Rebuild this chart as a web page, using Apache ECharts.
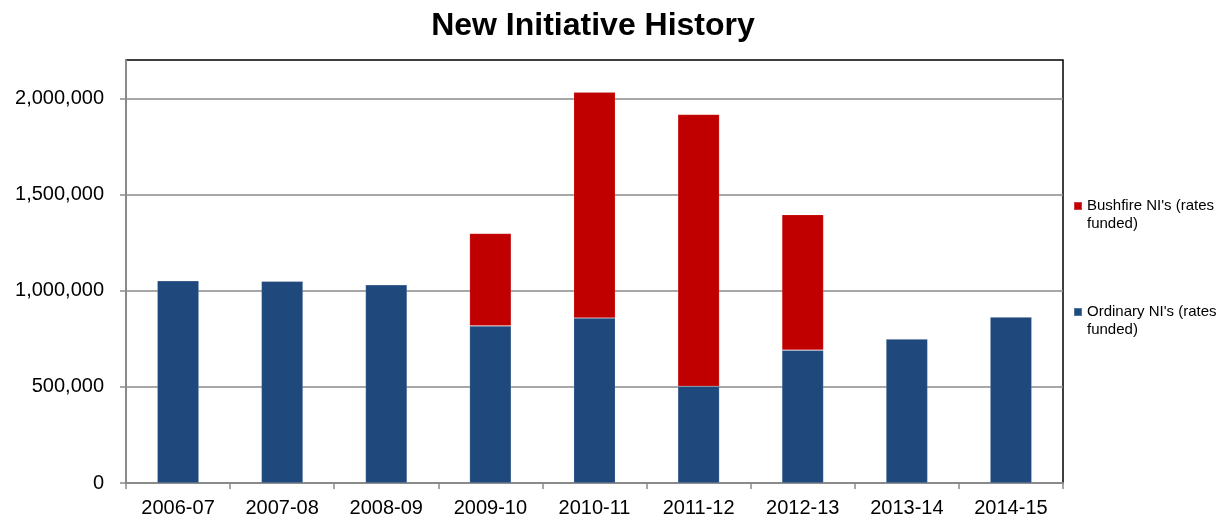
<!DOCTYPE html>
<html>
<head>
<meta charset="utf-8">
<script src="https://cdn.jsdelivr.net/npm/echarts@6/dist/echarts.min.js"></script>
<style>
  html, body { margin: 0; padding: 0; background: #fff; }
  #chart { width: 1226px; height: 521px; }
</style>
</head>
<body>
<div id="chart"></div>
<script>
// Financial years
const years = ['2006-07', '2007-08', '2008-09', '2009-10', '2010-11', '2011-12', '2012-13', '2013-14', '2014-15'];
// Ordinary new initiatives (rates funded)
const ordinary = [1052000, 1050000, 1031000, 817000, 858000, 503000, 691000, 749000, 863000];
// Bushfire new initiatives (rates funded), stacked on top of ordinary
const bushfire = [0, 0, 0, 481000, 1175000, 1414000, 705000, 0, 0];

const seriesNames = ["Ordinary NI's (rates\nfunded)", "Bushfire NI's (rates\nfunded)"];

const chart = echarts.init(document.getElementById('chart'));

const legendText = {
  fontFamily: 'Liberation Sans, Arial, sans-serif',
  fontSize: 15,
  color: '#000',
  lineHeight: 18
};

// A blank first line keeps the swatch level with the first line of the name
const legendFormatter = name => '\u00a0\n' + name;

function legendAt(name, top) {
  return {
    data: [name],
    left: 1073,
    top: top,
    padding: 0,
    orient: 'vertical',
    itemWidth: 8,
    itemHeight: 8,
    icon: 'rect',
    formatter: legendFormatter,
    textStyle: legendText
  };
}

chart.setOption({
  animation: false,
  backgroundColor: '#fff',
  title: {
    text: 'New Initiative History',
    left: 588,
    textAlign: 'center',
    top: 5,
    textStyle: {
      fontFamily: 'Liberation Sans, Arial, sans-serif',
      fontSize: 32,
      fontWeight: 'bold',
      color: '#000'
    }
  },
  legend: [
    legendAt(seriesNames[1], 179),
    legendAt(seriesNames[0], 285)
  ],
  grid: {
    left: 126,
    right: 163,
    top: 60,
    bottom: 38,
    show: true,
    borderColor: '#000',
    borderWidth: 1.5,
    backgroundColor: 'transparent'
  },
  xAxis: {
    type: 'category',
    data: years,
    axisLine: { show: true, lineStyle: { color: '#8a8a8a', width: 2 } },
    axisTick: { show: true, alignWithLabel: false, length: 6, lineStyle: { color: '#8a8a8a', width: 1.5 } },
    axisLabel: {
      margin: 15,
      fontFamily: 'Liberation Sans, Arial, sans-serif',
      fontSize: 20,
      color: '#000'
    }
  },
  yAxis: {
    type: 'value',
    min: 0,
    max: 2200000,
    interval: 500000,
    axisLine: { show: true, lineStyle: { color: '#8a8a8a', width: 2 } },
    axisTick: { show: true, length: 6, lineStyle: { color: '#8a8a8a', width: 1.5 } },
    splitLine: { show: true, showMaxLine: false, lineStyle: { color: '#8a8a8a', width: 1.5 } },
    axisLabel: {
      showMaxLabel: false,
      margin: 22,
      fontFamily: 'Liberation Sans, Arial, sans-serif',
      fontSize: 20,
      color: '#000',
      formatter: v => v.toLocaleString('en-US')
    }
  },
  series: [
    {
      name: seriesNames[0],
      type: 'bar',
      stack: 'total',
      data: ordinary,
      barWidth: '40%',
      itemStyle: { color: '#1F497D', borderColor: 'rgba(255,255,255,0.25)', borderWidth: 0.6 }
    },
    {
      name: seriesNames[1],
      type: 'bar',
      stack: 'total',
      data: bushfire,
      barWidth: '40%',
      itemStyle: { color: '#C00000', borderColor: 'rgba(255,255,255,0.25)', borderWidth: 0.6 }
    }
  ]
});
</script>
</body>
</html>
